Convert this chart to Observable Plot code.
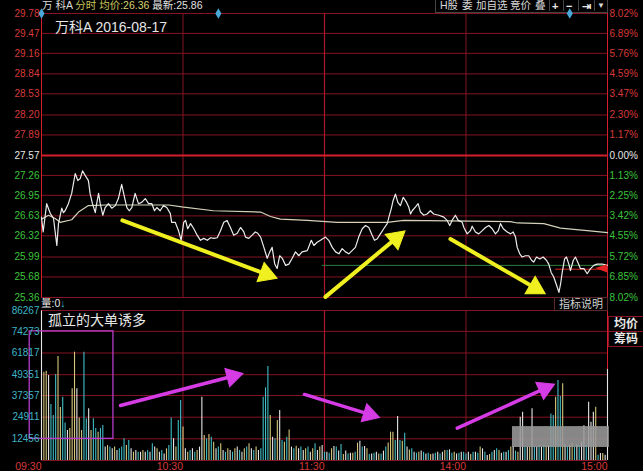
<!DOCTYPE html>
<html><head><meta charset="utf-8">
<script src="https://cdn.jsdelivr.net/npm/d3@7"></script>
<script src="https://cdn.jsdelivr.net/npm/@observablehq/plot@0.6"></script>
<style>
html,body{margin:0;padding:0;background:#000;width:643px;height:471px;overflow:hidden;font-family:"Liberation Sans",Arial,"Noto Sans CJK SC",sans-serif;}
#wrap{position:relative;width:643px;height:471px;background:#000;}
.abs{position:absolute;white-space:nowrap;}
svg{overflow:visible;}
.tb{position:absolute;top:0px;font-size:10.5px;line-height:11px;color:#d8d8d8;white-space:nowrap;}
</style></head><body><div id="wrap">
<div class="abs" style="left:42px;top:0px;font-size:10.5px;line-height:11px;"><span style="color:#dcdcdc">万 科A</span> <span style="color:#c8c45a">分时</span> <span style="color:#c8c45a">均价:</span><span style="color:#d8d070">26.36</span> <span style="color:#e0e0e0">最新:25.86</span></div>
<div class="abs" style="left:435px;top:-1px;width:171px;height:12px;border:1px solid #444;"></div>
<div class="tb" style="left:440px;">H股</div>
<div class="tb" style="left:462px;">委</div>
<div class="tb" style="left:476px;">加自选</div>
<div class="tb" style="left:510px;">竞价</div>
<div class="tb" style="left:535px;">叠</div>
<div class="abs" style="left:549px;top:-1px;width:1px;height:12px;background:#444"></div>
<div class="tb" style="left:552px;top:1px;font-size:11px;line-height:10px;font-weight:bold;color:#e8e8e8">+</div>
<div class="abs" style="left:563px;top:-1px;width:1px;height:12px;background:#444"></div>
<div class="tb" style="left:566px;top:1px;font-size:11px;line-height:10px;font-weight:bold;color:#e8e8e8">−</div>
<div class="abs" style="left:578px;top:-1px;width:1px;height:12px;background:#444"></div>
<div class="tb" style="left:582px;top:1px;line-height:10px;font-weight:bold;color:#e8e8e8">⇥</div>
<div class="abs" style="left:594px;top:-1px;width:1px;height:12px;background:#444"></div>
<div class="tb" style="left:597px;top:1px;font-size:8px;line-height:10px;">▼</div>
<div id="price" class="abs" style="left:0;top:0;"></div>
<div id="vol" class="abs" style="left:0;top:300px;"></div>
<div class="abs" style="left:55px;top:19px;font-size:14px;line-height:16px;color:#e6e6e6">万科A 2016-08-17</div>
<div class="abs" style="left:41px;top:298px;font-size:10.5px;line-height:11px;color:#e8e8e8">量:0<span style="color:#3fb6c6">↓</span></div>
<div class="abs" style="left:48px;top:312px;font-size:14px;line-height:16px;color:#e6e6e6">孤立的大单诱多</div>
<div class="abs" style="left:554px;top:297px;width:52px;height:12px;border:1px solid #5a2a2a;font-size:11px;line-height:12px;color:#cfcfcf;text-align:center">指标说明</div>
<div class="abs" style="left:608px;top:316px;width:34px;height:14px;border:1px solid #8a1424;font-size:12px;font-weight:bold;line-height:14px;color:#e8e8e8;text-align:center">均价</div>
<div class="abs" style="left:608px;top:331px;width:34px;height:14px;border:1px solid #8a1424;font-size:12px;font-weight:bold;line-height:14px;color:#e8e8e8;text-align:center">筹码</div>
</div>
<script>
// ---- data ----
const prevClose = 27.57;
const priceTicks = [29.78,29.47,29.16,28.84,28.53,28.20,27.89,27.57,27.26,26.95,26.63,26.32,25.99,25.68,25.36];
const pctLabels = ["8.02%","6.89%","5.76%","4.59%","3.47%","2.30%","1.17%","0.00%","1.13%","2.25%","3.42%","4.55%","5.72%","6.85%","8.02%"];
const volTicks = [86267,74273,61817,49351,37357,24911,12456];
const timeTicks = [0,60,120,180,240];
const timeLabels = ["09:30","10:30","11:30","14:00","15:00"];
const eventMinutes = [0,75,224];
const lastPrice = 25.86;

const priceMin = [0,0.7,2.2,3.7,5.1,6.5,7.2,8.6,9.3,10,11.4,12.8,14.3,15.4,16.4,17.4,18.5,19.9,20.6,21.6,22.8,23.4,24.2,24.9,26,27,28.4,29.8,31.3,32.6,34,35.2,36.2,37.2,38.3,39.7,41.1,42.5,44,45.4,46.8,47.9,48.9,50.3,51.7,53.1,54.6,55.2,56.7,58.1,59.2,60.3,61.1,62,63.2,64.6,66,67.4,68.8,70.3,71.7,73.1,74.5,75.9,77.3,78.7,80.1,81.5,83,84.4,85.8,86.5,87.9,89.3,90.7,91.7,92.9,94.3,95.7,96.8,97.8,98.9,99.9,101,102.1,103.5,104.9,106.3,107.7,109.1,110.5,112.7,114.4,115.5,116.9,118.3,120.4,121.8,123.3,124.7,126.1,127.5,128.9,130.3,131.7,133.1,134.5,136,137.4,138.8,140.2,141.2,142.3,143.7,145.1,146.6,147.3,148.3,149.1,150.1,151.1,152.2,153.4,154.8,155.7,156.5,157.2,158.6,159.7,160.7,162.1,163.5,164.9,166.3,168.5,170.6,172,173.1,174.1,175.5,176.7,178.4,179.1,180.5,181.9,182.6,184,185.4,186.9,188.3,189.7,191.1,192.5,193.7,194.6,195.8,197.5,198.9,200,201,201.7,202.8,203.8,205.2,206.6,207.8,208.7,209.9,211.3,212.7,214.1,215.1,216.1,217.2,218.7,219.4,220.1,220.8,221.8,222.6,223.6,224.3,225.5,226.4,227.4,228.5,230,231.4,232.8,234.2,235.6,237.8,239.2,240];
const priceVal = [26.61,26.38,26.82,26.67,26.59,26.17,26.51,26.75,26.68,26.71,26.82,26.98,27.29,27.18,27.21,27.33,27.26,27.18,26.98,26.82,26.68,26.82,26.98,26.82,26.64,26.76,26.82,26.75,26.79,26.90,27.12,26.92,26.76,26.71,26.76,26.98,26.82,26.84,26.90,26.82,26.82,26.71,26.76,26.71,26.79,26.76,26.67,26.53,26.53,26.40,26.25,26.53,26.56,26.43,26.51,26.43,26.33,26.25,26.28,26.25,26.29,26.28,26.29,26.40,26.53,26.56,26.45,26.33,26.36,26.45,26.38,26.30,26.28,26.33,26.38,26.36,26.30,26.14,25.97,26.07,26.14,25.88,25.81,26.01,25.97,25.86,25.88,25.97,26.07,26.01,26.07,26.09,26.25,26.17,26.22,26.25,26.30,26.25,26.14,26.07,26.04,26.12,26.07,26.04,26.09,26.14,26.30,26.43,26.48,26.45,26.33,26.25,26.27,26.35,26.43,26.51,26.61,26.74,26.87,26.97,26.84,26.79,26.92,26.84,26.77,26.66,26.71,26.77,26.82,26.69,26.64,26.66,26.71,26.66,26.64,26.61,26.56,26.48,26.56,26.64,26.56,26.53,26.45,26.35,26.40,26.47,26.38,26.35,26.40,26.45,26.48,26.43,26.35,26.40,26.51,26.43,26.38,26.35,26.38,26.30,26.14,26.04,25.99,26.01,26.01,25.94,25.91,25.99,25.96,25.99,25.94,25.88,25.75,25.68,25.52,25.44,25.57,25.75,25.96,25.99,25.88,25.78,25.94,25.99,25.91,25.81,25.81,25.73,25.81,25.86,25.88,25.88,25.87,25.86];

const avgMin = [0,3,5.8,7.9,12.8,15.7,19.9,27,53.9,59.5,72.9,92.9,97.1,101.3,112.7,125.4,146.6,153.5,182,198.9,201.7,213,220.1,231.4,240];
const avgVal = [26.58,26.64,26.59,26.53,26.57,26.69,26.79,26.80,26.80,26.77,26.71,26.69,26.62,26.58,26.56,26.53,26.53,26.56,26.55,26.54,26.52,26.51,26.44,26.40,26.37];

const volumes = [
86000,50800,51400,48900,32200,25900,49500,59800,30500,36400,
21500,17300,18400,41200,62300,41200,24500,17300,62300,24000,
29700,17300,24000,18400,16300,18400,20100,7700,8600,7700,
6700,7700,5750,6700,7700,12500,8600,11500,6700,4800,
5750,4800,4800,5750,4800,5750,4800,9600,7700,6700,
4800,5750,3800,6700,8600,24500,12500,7700,23000,34500,
19200,6700,4800,5750,6700,4800,5750,7700,36400,14400,
12500,15000,13400,10500,6700,7700,9600,5750,4800,6700,
5750,4800,6700,7700,5750,4800,6700,7700,9600,6700,
5750,7700,5750,6700,36400,41800,54000,25900,13400,12500,
23000,28800,11500,10500,13400,17600,7700,6700,8200,6700,
7700,5750,6700,7700,4800,6700,9600,5750,7700,8600,
4800,4800,4200,6700,8000,7700,5400,9200,3400,5400,
3800,4200,4200,4800,10000,11100,7700,8000,6700,3500,
3800,4200,4800,3800,3800,5400,7700,10000,16300,16300,
11500,25300,11500,11100,15700,7700,6100,6700,4800,4200,
4800,5400,4800,3800,4200,3500,3800,4200,4800,3800,
4800,5750,5750,6100,4200,4800,3800,4200,4800,4800,
3800,4800,3500,4800,4800,4200,7700,6700,4800,2900,
3500,4800,5750,6700,5750,4200,4800,4800,5750,7700,
8000,5400,4800,24900,27800,7700,7700,7700,29700,8000,
7700,8600,7700,9000,8000,8600,26800,25900,36400,46000,
36800,44100,9000,8000,8600,9600,7700,9000,8600,10500,
20000,8600,33500,22000,27800,30600,3000,4000,4000,3000,
52300];
// c = cyan, y = yellow, w = white (bar colour category)
const volKinds = "wyywcccyyc"+"cwyyywyycc"+"wyccyccwyc"+"wywcccycwy"+"wcwywcwcwy"+"wcwyccwycc"+"ywycwcywwy"+"cycywcywcy"+"wcywcwycyw"+"cywccccywc"+"ywcycywcyw"+"cwycwycwyw"+"cwcywcwcyw"+"cwycywcwyc"+"wcwycwcyyy"+"cwcycwycwc"+"ywcwcywcwc"+"wycwcywcwc"+"cwycwcywcw"+"ycwcywcwcy"+"wcywwcwywc"+"wcwcywccyc"+"cywcwycwcw"+"wcwwwycwyw"+"w";

// annotations (data units: minute index, price / volume)
const yellowArrows = [
  {x1:34.3,y1:26.56,x2:99.2,y2:25.67},
  {x1:120.4,y1:25.37,x2:153.6,y2:26.38},
  {x1:173.4,y1:26.27,x2:213,y2:25.43}
];
const magentaArrows = [
  {x1:33.5,y1:31600,x2:85.1,y2:49900},
  {x1:111.5,y1:38000,x2:143,y2:24900},
  {x1:176.3,y1:18600,x2:217.2,y2:43700}
];
const boxAnnot = [{x1:-5,x2:30.5,y1:12456,y2:74273}];
const blurBox = [{x1:199.7,x2:240.8,y1:7500,y2:19500}];
const flag = [{m:235,lo:25.81,hi:25.81},{m:240,lo:25.74,hi:25.87}];

// ---- styles ----
const C = {grid:"#861322", bright:"#d21f2b", red:"#d83a3a", green:"#3cc43c", white:"#e8e8e8", vol:"#3fb6c6"};
const kindColor = {c:"#3fbcc4", y:"#d6c67a", w:"#e6e6e6"};

// arrow helper: shaft (link) + filled triangular head, oriented with the plot's own scales
function arrowMarks(arrows, sx, sy, color, shaftW, headR, back) {
  const heads = arrows.map(a => {
    const px1 = sx.apply(a.x1), py1 = sy.apply(a.y1), px2 = sx.apply(a.x2), py2 = sy.apply(a.y2);
    const len = Math.hypot(px2 - px1, py2 - py1);
    const f = back / len;
    const cx = sx.invert(px2 - (px2 - px1) * f), cy = sy.invert(py2 - (py2 - py1) * f);
    const f2 = (back + 2) / len;
    const ex = sx.invert(px2 - (px2 - px1) * f2), ey = sy.invert(py2 - (py2 - py1) * f2);
    const rot = Math.atan2(px2 - px1, -(py2 - py1)) * 180 / Math.PI;
    return {x1:a.x1, y1:a.y1, ex, ey, cx, cy, rot};
  });
  return [
    Plot.link(heads, {x1:"x1", y1:"y1", x2:"ex", y2:"ey", stroke:color, strokeWidth:shaftW, strokeLinecap:"round"}),
    Plot.dot(heads, {x:"cx", y:"cy", rotate:"rot", symbol:"triangle", r:headR, fill:color, stroke:color, strokeWidth:1})
  ];
}

const priceBase = {
  width:643, height:300, marginLeft:41, marginRight:36, marginTop:13, marginBottom:3,
  x:{domain:[0,240], axis:null},
  y:{domain:[25.36,29.78], axis:null},
  color:{type:"identity"},
  style:{background:"transparent", fontFamily:"Liberation Sans, Arial, sans-serif"}
};
const probeP = Plot.plot({...priceBase, marks:[]});
const psx = probeP.scale("x"), psy = probeP.scale("y");

const pricePlot = Plot.plot({
  ...priceBase,
  marks:[
    Plot.ruleY(priceTicks.filter(d=>d!==prevClose), {stroke:C.grid, strokeWidth:1}),
    Plot.ruleX([60,180], {stroke:C.grid, strokeWidth:1}),
    Plot.ruleX([120], {stroke:"#a8182a", strokeWidth:1.2}),
    Plot.ruleX([0,240], {stroke:C.bright, strokeWidth:1}),
    Plot.ruleY([prevClose], {stroke:C.bright, strokeWidth:2}),
    Plot.ruleY([lastPrice], {x1:119, x2:240, stroke:"#2f7f3f", strokeWidth:1}),
    Plot.ruleY([25.80], {x1:218, x2:240, stroke:"#d82424", strokeWidth:1}),
    Plot.line(avgMin.map((m,i)=>({m, p:avgVal[i]})), {x:"m", y:"p", stroke:"#d4d2b8", strokeWidth:1.2}),
    Plot.line(priceMin.map((m,i)=>({m, p:priceVal[i]})), {x:"m", y:"p", stroke:"#ececec", strokeWidth:1.2}),
    Plot.areaY(flag, {x:"m", y1:"lo", y2:"hi", fill:"#e02424"}),
    ...arrowMarks(yellowArrows, psx, psy, "#f0f020", 4, 7.5, 10),
    Plot.dot(eventMinutes, {x:d=>d, y:29.78, symbol:"diamond", r:3.2, fill:"#4aa8d8"}),
    Plot.text(priceTicks, {x:0, y:d=>d, text:d=>d.toFixed(2), textAnchor:"end", dx:-2, fontSize:10,
      fill:d=> d>prevClose ? C.red : d<prevClose ? C.green : C.white}),
    Plot.text(priceTicks, {x:240, y:d=>d, text:(d,i)=>pctLabels[i], textAnchor:"start", dx:2, fontSize:10,
      fill:d=> d>prevClose ? C.red : d<prevClose ? C.green : C.white})
  ]
});
document.getElementById("price").appendChild(pricePlot);

const volBase = {
  width:643, height:171, marginLeft:41, marginRight:36, marginTop:10, marginBottom:11,
  x:{domain:[0,240], axis:null},
  y:{domain:[0,86267], axis:null},
  color:{type:"identity"},
  style:{background:"transparent", fontFamily:"Liberation Sans, Arial, sans-serif"}
};
const probeV = Plot.plot({...volBase, marks:[]});
const vsx = probeV.scale("x"), vsy = probeV.scale("y");

const volPlot = Plot.plot({
  ...volBase,
  marks:[
    Plot.ruleY(volTicks, {stroke:C.grid, strokeWidth:1}),
    Plot.ruleY([0], {stroke:C.grid, strokeWidth:1}),
    Plot.ruleX([60,180], {stroke:C.grid, strokeWidth:1}),
    Plot.ruleX([120], {stroke:"#a8182a", strokeWidth:1.2}),
    Plot.ruleX([0,240], {stroke:C.bright, strokeWidth:1}),
    Plot.ruleX(volumes, {x:(d,i)=>i, y1:0, y2:d=>d, stroke:(d,i)=>kindColor[volKinds[i]], strokeWidth:1.1}),
    Plot.rect(blurBox, {x1:"x1", x2:"x2", y1:"y1", y2:"y2", fill:"#9a9a9a", fillOpacity:0.88}),
    Plot.rect(boxAnnot, {x1:"x1", x2:"x2", y1:"y1", y2:"y2", fill:"none", stroke:"#b83ccc", strokeWidth:1.3}),
    ...arrowMarks(magentaArrows, vsx, vsy, "#d63ce6", 3.5, 7, 10),
    Plot.text(volTicks, {x:0, y:d=>d, text:d=>String(d), textAnchor:"end", dx:-2, fontSize:10, fill:C.vol}),
    Plot.text(timeTicks, {x:d=>d, y:0, text:(d,i)=>timeLabels[i], textAnchor:"end", dy:6, fontSize:10.5, fill:C.red})
  ]
});
document.getElementById("vol").appendChild(volPlot);
</script>
</body></html>
